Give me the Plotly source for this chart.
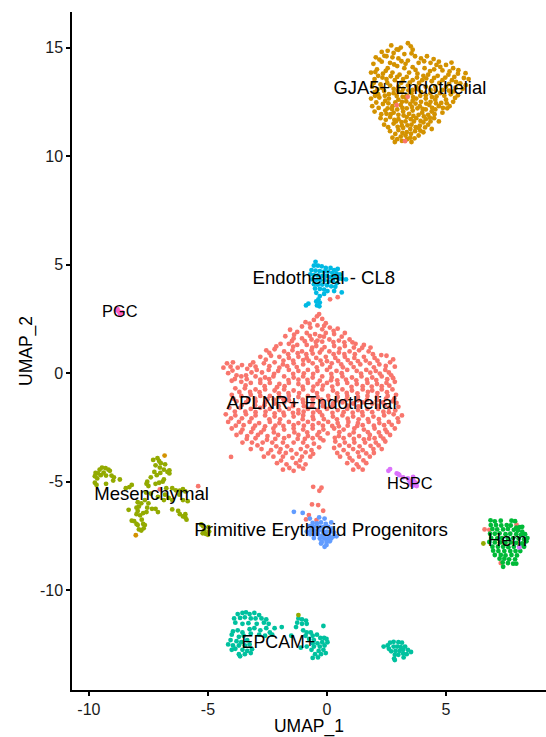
import plotly.graph_objects as go

gja5 = [(3.4,15.2),(3.1,15.0),(2.7,15.1),(3.6,14.9),(2.3,14.8),(2.8,14.75),(3.25,14.7),(2.05,14.55),(2.5,14.6),(3.7,14.6),(4.2,14.6),(3.0,14.5),
(1.95,14.25),(2.3,14.35),(2.65,14.3),(3.4,14.4),(3.85,14.3),(4.35,14.3),(4.7,14.35),(5.0,14.2),(2.1,14.0),(2.55,14.05),(2.95,14.15),(3.25,14.05),(3.6,14.1),(4.1,14.05),(4.5,14.0),(4.85,13.95),(5.3,14.05),
(1.85,13.85),(2.35,13.8),(2.75,13.85),(3.05,13.75),(3.45,13.85),(3.8,13.8),(4.25,13.75),(4.65,13.7),(5.1,13.75),(5.5,13.8),(5.75,13.6),
(2.0,13.55),(2.5,13.55),(2.85,13.5),(3.2,13.55),(3.6,13.5),(4.0,13.5),(4.4,13.45),(4.85,13.5),(5.25,13.5),(5.6,13.35),(5.95,13.55),
(1.9,13.2),(2.25,13.3),(2.65,13.25),(3.0,13.2),(3.4,13.25),(3.75,13.2),(4.15,13.2),(4.55,13.2),(5.0,13.2),(5.4,13.15),(5.7,13.1),
(2.0,12.95),(2.4,13.0),(2.8,12.9),(3.15,12.95),(3.55,12.9),(3.95,12.95),(4.35,12.9),(4.75,12.9),(5.2,12.85),(5.5,12.8),
(1.85,12.65),(2.2,12.7),(2.6,12.65),(3.0,12.6),(3.3,12.7),(3.75,12.65),(4.15,12.65),(4.55,12.6),(5.0,12.6),(5.3,12.5),
(1.9,12.3),(2.35,12.4),(2.75,12.3),(3.1,12.35),(3.5,12.4),(3.9,12.3),(4.3,12.35),(4.7,12.3),(5.15,12.3),
(2.0,12.05),(2.45,12.1),(2.8,12.0),(3.2,12.05),(3.6,12.1),(4.0,12.0),(4.4,12.05),(4.85,12.0),(5.05,12.2),
(2.25,11.75),(2.65,11.8),(3.0,11.7),(3.35,11.8),(3.75,11.75),(4.15,11.7),(4.5,11.75),(4.7,11.6),
(2.4,11.45),(2.8,11.5),(3.15,11.4),(3.55,11.45),(3.9,11.4),(4.25,11.45),(4.4,11.25),
(2.65,11.15),(3.0,11.2),(3.35,11.1),(3.7,11.15),(4.05,11.1),(2.75,10.85),(3.1,10.9),(3.5,10.85),(3.85,10.95),(2.85,10.65),(3.15,10.7),(3.55,10.65),
(2.55,14.85),(3.0,14.9),(2.2,14.45),(2.75,14.55),(3.3,14.25),(3.95,14.5),(4.6,14.2),(5.15,13.9),(2.15,13.7),(2.95,13.65),(3.35,13.65),(4.05,13.7),(4.5,13.6),(5.35,13.65),
(2.3,13.15),(2.8,13.1),(3.2,13.1),(3.6,13.05),(4.35,13.05),(4.85,13.05),(2.15,12.85),(2.6,12.85),(3.35,12.8),(4.15,12.8),(4.6,12.75),
(2.45,12.55),(3.15,12.5),(3.6,12.55),(3.95,12.5),(4.35,12.5),(4.8,12.45),(2.55,12.2),(2.95,12.15),(3.35,12.2),(3.8,12.2),(4.15,12.15),(4.55,12.15),
(2.5,11.95),(3.0,11.9),(3.45,11.95),(3.85,11.9),(4.25,11.9),(2.9,11.6),(3.3,11.6),(3.65,11.6),(4.05,11.55),(4.35,11.6),(3.2,11.3),(3.5,11.25),(3.85,11.3),(3.3,10.95)]

gja5_extra = [(2.93,14.92),(3.52,15.06),(2.41,14.62),(3.13,14.37),(2.82,14.22),(3.55,14.73),(4.08,14.37),(4.48,14.47),(5.23,14.31),(4.76,14.11),(5.52,13.96),(4.33,13.92),(3.72,13.97),(2.47,13.93),(2.03,13.87),
(5.82,13.82),(5.42,13.42),(4.97,13.62),(4.17,13.58),(3.78,13.62),(2.68,13.68),(2.33,13.62),(1.97,13.38),(2.53,13.38),(3.12,13.38),(3.48,13.39),(3.87,13.37),(4.72,13.37),(5.13,13.33),(5.83,13.27),
(2.12,13.07),(2.97,13.02),(3.42,13.03),(3.83,13.08),(4.57,13.03),(5.12,13.02),(5.33,12.98),(2.02,12.78),(2.43,12.78),(2.93,12.77),(3.18,12.73),(3.62,12.72),(3.92,12.78),(4.41,12.72),(4.93,12.78),(5.38,12.68),
(2.07,12.47),(2.58,12.43),(2.87,12.47),(3.33,12.52),(3.72,12.42),(4.17,12.42),(4.58,12.43),(5.03,12.43),(2.17,12.22),(2.73,12.17),(3.17,12.22),(3.57,12.26),(4.02,12.17),(4.42,12.22),(4.87,12.22),
(2.28,11.93),(2.68,11.93),(3.22,11.87),(3.63,11.85),(4.07,11.83),(4.52,11.93),(2.47,11.67),(2.83,11.67),(3.13,11.57),(3.52,11.7),(3.93,11.62),(4.32,11.77),(2.57,11.33),(2.97,11.35),(3.38,11.42),(3.73,11.33),(4.12,11.32),
(2.87,11.02),(3.17,11.07),(3.53,11.03),(3.92,11.17),(2.95,10.78),(3.37,10.78),(3.68,10.82)]

aplnr = [(2.93,12.35),(3.39,12.73),(3.28,10.69),(0.45,3.5),(0.13,3.4),(-4.03,-3.86),(-5.41,-5.21),(-7.02,-5.36),
(-0.58,-5.24),(-0.23,-5.28),(-0.32,-5.42),(-0.63,-6.05),(-0.37,-6.08),(-0.16,-6.34),(-0.76,-6.54),(-0.88,-6.74),(-0.44,-6.77),
(6.62,-7.2),(6.82,-7.22),(7.96,-6.98),(7.3,-8.75),
(-0.33,2.72),(-0.55,2.45),(-0.2,2.5),(-0.05,2.3),(-0.9,2.35),(-0.4,2.2),(-1.05,2.15),(-0.7,2.1),(-0.2,2.02),(0.12,2.1),(0.45,2.05),
(-1.55,2.0),(-1.25,1.9),(-0.85,1.85),(-0.5,1.8),(-0.3,1.7),(-0.05,1.85),(0.3,1.8),(0.75,1.85),(-1.75,1.7),(-1.4,1.6),(-1.05,1.6),(-0.65,1.55),(-0.2,1.45),(0.1,1.55),(0.5,1.5),(0.95,1.55),
(-1.95,1.35),(-1.6,1.35),(-1.25,1.3),(-0.85,1.3),(-0.45,1.25),(-0.1,1.2),(0.3,1.25),(0.75,1.25),(1.2,1.35),(1.55,1.3),
(-2.55,1.05),(-2.2,1.1),(-1.8,1.0),(-1.45,1.05),(-1.05,1.0),(-0.65,1.05),(-0.3,0.95),(0.1,1.0),(0.5,0.95),(0.95,1.0),(1.35,1.05),(1.75,1.0),
(-2.8,0.75),(-2.35,0.8),(-2.0,0.75),(-1.6,0.7),(-1.2,0.75),(-0.85,0.7),(-0.45,0.7),(-0.05,0.75),(0.35,0.7),(0.75,0.75),(1.15,0.7),(1.55,0.75),(2.0,0.7),(2.5,0.8),
(-3.1,0.5),(-2.65,0.45),(-2.2,0.5),(-1.85,0.4),(-1.4,0.45),(-1.0,0.4),(-0.6,0.45),(-0.2,0.4),(0.2,0.45),(0.6,0.4),(1.0,0.45),(1.4,0.4),(1.8,0.45),(2.2,0.4),(2.65,0.5),
(-4.2,0.45),(-3.95,0.5),(-4.05,0.3),(-4.35,0.25),(-3.75,0.25),(-3.35,0.2),(-2.95,0.15),(-2.45,0.15),(-2.05,0.1),(-1.6,0.15),(-1.2,0.1),(-0.8,0.15),(-0.4,0.1),(0.0,0.15),(0.4,0.1),(0.85,0.15),(1.25,0.1),(1.65,0.15),(2.05,0.1),(2.45,0.15),(2.85,0.3),
(-4.15,0.0),(-3.8,-0.1),(-3.4,-0.1),(-3.0,-0.15),(-2.6,-0.2),(-2.25,-0.15),(-1.8,-0.15),(-1.4,-0.2),(-1.0,-0.15),(-0.6,-0.2),(-0.2,-0.15),(0.2,-0.2),(0.65,-0.15),(1.05,-0.2),(1.45,-0.15),(1.9,-0.2),(2.3,-0.15),(2.7,-0.1),
(-4.0,-0.35),(-3.6,-0.4),(-3.2,-0.45),(-2.8,-0.45),(-2.4,-0.45),(-2.0,-0.5),(-1.6,-0.45),(-1.2,-0.5),(-0.8,-0.45),(-0.4,-0.5),(0.0,-0.45),(0.45,-0.5),(0.85,-0.45),(1.25,-0.5),(1.7,-0.45),(2.1,-0.5),(2.5,-0.45),(2.85,-0.4),
(-3.85,-0.7),(-3.45,-0.7),(-3.0,-0.75),(-2.6,-0.75),(-2.2,-0.8),(-1.8,-0.75),(-1.4,-0.8),(-1.0,-0.75),(-0.6,-0.8),(-0.2,-0.75),(0.25,-0.8),(0.65,-0.75),(1.05,-0.8),(1.5,-0.75),(1.9,-0.8),(2.3,-0.75),(2.75,-0.75),
(-4.0,-1.0),(-3.6,-1.05),(-3.2,-1.0),(-2.8,-1.05),(-2.4,-1.05),(-2.0,-1.1),(-1.6,-1.05),(-1.2,-1.1),(-0.8,-1.05),(-0.4,-1.1),(0.05,-1.05),(0.45,-1.1),(0.85,-1.05),(1.3,-1.1),(1.7,-1.05),(2.1,-1.1),(2.55,-1.05),(2.9,-1.0),
(-3.8,-1.3),(-3.4,-1.35),(-3.0,-1.3),(-2.6,-1.35),(-2.2,-1.4),(-1.8,-1.35),(-1.4,-1.4),(-1.0,-1.35),(-0.6,-1.4),(-0.2,-1.35),(0.25,-1.4),(0.65,-1.35),(1.1,-1.4),(1.5,-1.35),(1.9,-1.4),(2.35,-1.35),(2.75,-1.3),
(-4.1,-1.6),(-3.65,-1.6),(-3.2,-1.65),(-2.8,-1.6),(-2.4,-1.65),(-2.0,-1.7),(-1.6,-1.65),(-1.2,-1.7),(-0.8,-1.65),(-0.4,-1.7),(0.0,-1.65),(0.45,-1.7),(0.85,-1.65),(1.3,-1.7),(1.7,-1.65),(2.15,-1.65),(2.6,-1.6),(3.0,-1.55),
(-4.25,-1.9),(-3.85,-1.95),(-3.4,-1.9),(-3.0,-1.95),(-2.6,-1.95),(-2.2,-2.0),(-1.8,-1.95),(-1.4,-2.0),(-1.0,-1.95),(-0.6,-2.0),(-0.2,-1.95),(0.25,-2.0),(0.65,-1.95),(1.1,-2.0),(1.5,-1.95),(1.95,-2.0),(2.4,-1.95),(2.8,-1.9),(3.15,-1.95),
(-4.15,-2.25),(-3.7,-2.25),(-3.25,-2.25),(-2.85,-2.3),(-2.4,-2.25),(-2.0,-2.3),(-1.6,-2.25),(-1.2,-2.3),(-0.8,-2.25),(-0.35,-2.3),(0.05,-2.25),(0.45,-2.3),(0.9,-2.25),(1.3,-2.3),(1.75,-2.25),(2.2,-2.3),(2.6,-2.25),(3.0,-2.25),
(-4.0,-2.55),(-3.55,-2.6),(-3.1,-2.55),(-2.65,-2.6),(-2.25,-2.55),(-1.8,-2.6),(-1.4,-2.55),(-1.0,-2.6),(-0.6,-2.55),(-0.15,-2.6),(0.3,-2.55),(0.7,-2.6),(1.15,-2.55),(1.55,-2.6),(2.0,-2.55),(2.45,-2.6),(2.85,-2.55),
(-3.8,-2.85),(-3.35,-2.9),(-2.9,-2.85),(-2.5,-2.9),(-2.05,-2.85),(-1.6,-2.9),(-1.2,-2.85),(-0.8,-2.9),(-0.4,-2.85),(0.5,-2.9),(0.95,-2.85),(1.35,-2.9),(1.8,-2.85),(2.25,-2.9),(2.65,-2.85),
(-3.55,-3.2),(-3.15,-3.2),(-2.7,-3.2),(-2.3,-3.2),(-1.85,-3.2),(-1.4,-3.2),(-1.0,-3.2),(-0.55,-3.25),(-0.15,-3.1),(0.35,-3.15),(0.75,-3.2),(1.15,-3.2),(1.6,-3.2),(2.05,-3.2),(2.45,-3.15),
(-3.2,-3.5),(-2.75,-3.5),(-2.35,-3.55),(-1.95,-3.5),(-1.5,-3.55),(-1.1,-3.5),(-0.65,-3.55),(0.3,-3.45),(0.7,-3.55),(1.1,-3.5),(1.5,-3.55),(1.95,-3.5),(2.3,-3.5),
(-2.65,-3.85),(-2.25,-3.85),(-1.85,-3.85),(-1.45,-3.9),(-1.05,-3.85),(-0.7,-3.85),(0.55,-3.85),(0.95,-3.9),(1.35,-3.85),(1.8,-3.85),
(-2.1,-4.15),(-1.7,-4.2),(-1.3,-4.15),(-0.9,-4.2),(0.85,-4.15),(1.25,-4.2),(1.65,-4.15),(-1.85,-4.45),(-1.4,-4.5),(-1.0,-4.4),(1.1,-4.45),(1.5,-4.45),
(-3.6,-0.15),(-3.0,0.3),(-2.0,0.25),(-1.0,0.6),(-0.4,1.5),(-0.6,0.9),(0.0,0.55),(1.3,0.55),(-2.8,-0.3),(-2.1,-0.65),(-1.2,-0.3),(-0.3,-0.35),(0.8,-0.3),(1.5,-0.6),(2.3,-0.6),
(-3.3,-1.2),(-2.5,-1.2),(-1.6,-1.25),(-0.6,-1.2),(0.4,-1.25),(1.3,-1.25),(2.1,-1.25),(-3.0,-1.8),(-2.2,-1.85),(-1.2,-1.85),(-0.3,-1.8),(0.7,-1.8),(1.9,-1.8),(2.6,-1.8),
(-3.5,-2.4),(-2.6,-2.45),(-1.4,-2.4),(-0.6,-2.4),(0.5,-2.45),(1.5,-2.4),(2.4,-2.4),(-3.0,-3.0),(-1.8,-3.0),(-0.6,-3.0),(0.7,-3.0),(1.55,-3.05),(2.0,-3.0),(-2.0,-3.65),(-0.9,-3.65),(1.3,-3.65),(1.65,-3.7)]

aplnr_extra = [(-0.42,2.62),(-0.73,2.28),(-0.12,2.18),(0.28,1.95),(-1.38,1.77),(-0.72,1.72),(-0.13,1.68),(0.62,1.68),(1.07,1.42),(-1.47,1.48),(-0.93,1.47),(-0.47,1.43),(0.27,1.43),(0.73,1.42),(-2.13,1.23),(-1.42,1.22),(-0.62,1.17),(-0.22,1.08),(0.53,1.13),(1.13,1.18),(1.48,1.17),(1.83,1.18),
(-2.42,0.93),(-1.63,0.87),(-1.23,0.92),(-0.87,0.87),(0.28,0.87),(0.73,0.88),(1.17,0.87),(1.93,0.87),(2.28,0.83),(-2.57,0.62),(-1.83,0.58),(-1.42,0.58),(-0.77,0.57),(-0.27,0.58),(0.47,0.56),(0.87,0.6),(1.63,0.58),(2.12,0.57),(2.78,0.63),
(-3.57,0.37),(-3.22,0.37),(-2.42,0.32),(-1.67,0.32),(-1.27,0.28),(-0.43,0.27),(0.13,0.28),(0.67,0.27),(1.12,0.28),(1.97,0.27),(2.47,0.33),(-3.97,0.12),(-3.17,0.03),(-2.73,0.03),(-2.22,-0.03),(-1.42,-0.03),(-0.97,-0.01),(-0.58,-0.03),(0.18,-0.03),(0.62,0.0),(1.43,-0.02),(1.82,0.02),(2.22,-0.02),(2.6,0.03),
(-3.87,-0.27),(-3.37,-0.28),(-2.43,-0.28),(-1.62,-0.32),(-0.82,-0.31),(0.17,-0.33),(0.43,-0.33),(1.23,-0.33),(1.68,-0.3),(2.07,-0.32),(2.53,-0.28),(2.78,-0.23),(-3.42,-0.57),(-2.62,-0.6),(-1.78,-0.6),(-1.02,-0.62),(-0.57,-0.62),(-0.17,-0.58),(0.22,-0.62),(1.03,-0.63),(1.88,-0.62),(2.62,-0.58),
(-3.68,-0.87),(-3.23,-0.87),(-2.83,-0.88),(-2.02,-0.93),(-1.62,-0.92),(-1.17,-0.92),(-0.42,-0.92),(0.43,-0.93),(0.83,-0.91),(1.28,-0.93),(1.72,-0.87),(2.12,-0.92),(2.52,-0.88),(-3.93,-1.18),(-3.02,-1.17),(-2.23,-1.22),(-1.83,-1.2),(-1.02,-1.22),(-0.23,-1.22),(0.08,-1.23),(0.82,-1.22),(1.68,-1.23),(2.48,-1.18),(2.83,-1.17),
(-3.58,-1.47),(-3.02,-1.48),(-2.63,-1.48),(-2.03,-1.52),(-1.43,-1.52),(-0.97,-1.52),(-0.63,-1.53),(-0.17,-1.52),(0.22,-1.53),(0.87,-1.5),(1.32,-1.53),(2.12,-1.5),(2.43,-1.47),(2.92,-1.37),(-3.87,-1.77),(-3.43,-1.78),(-2.58,-1.78),(-1.83,-1.82),(-1.43,-1.83),(-0.98,-1.78),(-0.58,-1.82),(0.23,-1.83),(1.08,-1.82),(1.48,-1.8),(2.37,-1.78),(2.87,-1.72),
(-4.03,-2.08),(-3.57,-2.08),(-3.17,-2.08),(-2.42,-2.13),(-1.97,-2.13),(-1.02,-2.12),(-0.57,-2.12),(-0.13,-2.12),(0.42,-2.13),(0.87,-2.1),(1.33,-2.13),(1.72,-2.12),(2.18,-2.12),(2.97,-2.08),(-3.83,-2.42),(-3.02,-2.42),(-2.17,-2.42),(-1.83,-2.43),(-0.97,-2.42),(-0.17,-2.42),(0.22,-2.43),(0.87,-2.42),(1.27,-2.43),(1.97,-2.42),(2.72,-2.38),
(-3.62,-2.73),(-3.18,-2.72),(-2.77,-2.73),(-2.23,-2.73),(-1.37,-2.73),(-0.83,-2.73),(-0.33,-2.72),(0.03,-2.78),(0.52,-2.72),(1.12,-2.73),(1.72,-2.72),(2.18,-2.73),(2.52,-2.72),(-3.37,-3.03),(-2.52,-3.07),(-2.17,-3.03),(-1.23,-3.03),(-0.93,-3.03),(-0.28,-3.0),(0.33,-2.98),(1.13,-3.03),(1.77,-3.02),(2.37,-3.02),
(-2.92,-3.33),(-2.13,-3.37),(-1.67,-3.37),(-0.83,-3.37),(-0.33,-3.42),(0.53,-3.33),(0.93,-3.35),(1.37,-3.37),(1.83,-3.35),(2.17,-3.33),(-2.47,-3.7),(-1.73,-3.68),(-1.28,-3.72),(-0.58,-3.72),(0.43,-3.68),(0.87,-3.72),(1.97,-3.68),(-1.93,-4.03),(-1.13,-4.02),(1.07,-4.03),(1.53,-4.02),(-1.58,-4.37),(-1.17,-4.3),(1.33,-4.33)]

endo_cl8 = [(-0.48,5.13),(-0.55,4.95),(-0.38,4.95),(-0.22,4.92),(-0.05,4.85),(0.15,4.85),(0.3,4.75),(0.45,4.8),(-0.65,4.75),(-0.48,4.72),(-0.3,4.7),(-0.12,4.68),(0.05,4.68),(0.22,4.62),(0.4,4.6),(0.55,4.55),
(-0.7,4.55),(-0.55,4.52),(-0.38,4.5),(-0.2,4.48),(-0.02,4.48),(0.15,4.42),(0.32,4.42),(0.48,4.35),(0.62,4.35),(-0.62,4.32),(-0.45,4.3),(-0.28,4.28),(-0.1,4.28),(0.08,4.22),(0.25,4.25),(0.42,4.15),
(-0.55,4.1),(-0.38,4.08),(-0.2,4.08),(0.0,4.05),(0.18,4.0),(0.35,3.98),(-0.5,3.9),(-0.3,3.88),(-0.12,3.85),(0.02,3.78),(0.3,3.78),(0.62,3.72),(-0.45,3.7),(-0.12,3.65),(0.8,4.32),
(-0.3,3.55),(-0.36,3.4),(-0.45,3.3),(-0.3,3.25),(-0.42,3.12),(-0.32,3.08),(-0.78,3.2),(-0.88,3.12)]

mesenchymal = [(-9.75,-4.75),(-9.72,-4.6),(-9.65,-4.85),(-9.62,-4.62),(-9.55,-4.45),(-9.5,-4.7),(-9.45,-4.35),(-9.38,-4.58),(-9.3,-4.38),(-9.28,-4.72),(-9.18,-4.45),(-9.12,-4.5),(-9.05,-4.72),(-8.95,-4.8),(-8.98,-4.95),(-8.7,-4.9),(-9.75,-5.05),(-9.68,-5.15),(-9.28,-5.1),
(-7.3,-4.0),(-7.12,-3.92),(-7.05,-4.05),(-6.98,-4.15),(-7.2,-4.25),(-6.8,-4.2),(-7.02,-4.35),(-6.85,-4.45),(-7.25,-4.55),(-7.15,-4.7),(-7.0,-4.6),(-6.62,-4.48),(-6.62,-4.62),(-6.7,-4.55),(-6.85,-4.9),(-7.4,-4.8),(-7.55,-5.0),(-7.58,-5.1),(-7.5,-5.2),
(-7.2,-5.1),(-7.05,-5.05),(-6.9,-5.0),(-6.75,-5.3),(-8.2,-5.15),(-8.3,-5.25),(-8.45,-5.3),(-7.6,-5.5),(-7.4,-5.55),(-7.1,-5.7),(-6.8,-5.6),(-6.5,-5.3),(-6.35,-5.4),(-6.18,-5.42),(-6.05,-5.35),(-5.95,-5.45),(-6.2,-5.6),(-6.05,-5.85),(-5.85,-5.9),(-6.85,-5.85),(-6.65,-5.75),(-6.5,-5.85),
(-7.95,-5.95),(-7.8,-6.0),(-7.65,-5.85),(-7.5,-6.0),(-7.55,-6.2),(-7.9,-6.15),(-7.35,-6.25),(-7.2,-6.25),(-8.33,-6.3),(-8.0,-6.2),(-7.95,-6.35),(-8.0,-6.5),(-7.85,-6.55),(-7.72,-6.45),(-7.58,-6.4),(-7.1,-6.4),(-6.5,-6.28),(-6.25,-6.35),(-6.18,-6.5),(-6.05,-6.6),(-5.95,-6.65),(-5.9,-6.75),(-5.95,-6.5),
(-8.2,-6.8),(-8.1,-6.82),(-8.0,-6.95),(-7.78,-6.75),(-7.72,-6.95),(-7.65,-7.0),(-7.95,-7.0),(-7.9,-7.2),(-7.8,-7.25),(-7.7,-7.15),
(-5.28,-6.97),(-5.2,-7.05),(-5.15,-7.25),(-5.1,-7.4),(-5.0,-7.45),(-4.98,-7.1),(-5.22,-7.38),(-4.95,-7.3)]

hem = [(6.87,-6.78),(7.05,-6.83),(7.3,-6.8),(7.75,-6.8),(7.9,-6.82),(6.88,-7.0),(7.1,-7.0),(7.32,-7.02),(7.55,-7.0),(7.72,-7.02),(7.95,-7.12),(8.1,-7.1),(8.2,-7.08),(6.95,-7.18),(7.15,-7.2),(7.4,-7.2),(7.6,-7.18),(7.85,-7.22),(8.02,-7.25),(8.2,-7.3),
(6.85,-7.4),(7.05,-7.4),(7.25,-7.38),(7.5,-7.42),(7.7,-7.4),(7.95,-7.42),(8.15,-7.45),(8.32,-7.42),(6.9,-7.6),(7.15,-7.62),(7.35,-7.6),(7.6,-7.62),(7.82,-7.6),(8.05,-7.62),(8.28,-7.65),(8.42,-7.6),(6.82,-7.78),(7.05,-7.8),(7.28,-7.8),(7.5,-7.82),(7.72,-7.8),(7.95,-7.82),(8.2,-7.85),(8.38,-7.75),
(6.95,-8.0),(7.18,-8.0),(7.4,-8.0),(7.62,-8.02),(7.85,-8.0),(8.08,-8.0),(8.28,-8.0),(6.98,-8.18),(7.2,-8.2),(7.45,-8.2),(7.7,-8.2),(7.92,-8.2),(8.12,-8.2),(7.05,-8.38),(7.3,-8.38),(7.5,-8.4),(7.75,-8.38),(7.98,-8.4),(7.25,-8.55),(7.45,-8.55),(7.65,-8.58),(7.9,-8.58),(7.38,-8.72),(7.6,-8.75),(7.82,-8.78),(7.4,-8.92),(7.95,-8.78)]

epcam = [(-3.75,-11.1),(-3.55,-11.05),(-3.4,-11.02),(-3.25,-11.1),(-3.05,-11.05),(-2.85,-11.15),(-3.9,-11.3),(-3.65,-11.28),(-3.45,-11.25),(-3.2,-11.3),(-3.0,-11.3),(-2.75,-11.3),(-2.55,-11.35),(-3.85,-11.5),(-3.55,-11.55),(-3.3,-11.52),(-2.95,-11.55),(-2.65,-11.5),(-2.45,-11.55),
(-3.95,-11.9),(-3.75,-11.85),(-3.55,-11.95),(-3.25,-11.8),(-3.05,-11.75),(-2.8,-11.85),(-2.55,-11.75),(-2.4,-11.95),(-2.2,-11.75),(-4.0,-12.05),(-3.7,-12.15),(-3.5,-12.1),(-3.2,-12.0),(-2.85,-12.05),(-2.6,-12.1),(-2.3,-12.05),
(-4.05,-12.3),(-3.8,-12.35),(-3.6,-12.4),(-3.35,-12.3),(-4.15,-12.5),(-3.95,-12.55),(-3.7,-12.55),(-3.45,-12.55),(-3.25,-12.5),(-4.0,-12.75),(-3.85,-12.7),(-3.55,-12.75),(-3.35,-12.8),(-3.15,-12.72),(-3.7,-12.95),(-3.45,-12.95),(-3.2,-12.9),(-3.65,-13.05),
(-1.2,-11.3),(-1.05,-11.35),(-0.88,-11.4),(-1.25,-11.5),(-1.05,-11.55),(-0.85,-11.55),(-1.3,-11.7),(-0.15,-11.65),(-1.0,-11.85),(-0.85,-11.95),(-0.68,-11.95),(-0.9,-12.1),(-0.6,-12.1),(-0.42,-12.05),(-0.75,-12.25),(-0.55,-12.3),(-0.28,-12.2),(-0.12,-12.2),(-0.02,-12.25),
(-0.6,-12.45),(-0.4,-12.45),(-0.2,-12.4),(0.02,-12.4),(-0.85,-12.6),(-0.55,-12.6),(-0.3,-12.6),(-0.1,-12.55),(-0.65,-12.75),(-0.35,-12.8),(-0.15,-12.75),(-0.5,-12.95),(-0.25,-12.95),(-0.05,-12.9),(-0.6,-13.12),(-0.38,-13.1),
(-1.9,-11.7),(-1.5,-12.1),(-1.1,-12.65),
(2.38,-12.6),(2.55,-12.55),(2.65,-12.42),(2.8,-12.38),(3.0,-12.4),(3.15,-12.42),(2.6,-12.7),(2.8,-12.6),(2.95,-12.6),(3.1,-12.62),(3.28,-12.6),(2.7,-12.82),(2.88,-12.8),(3.05,-12.8),(3.2,-12.75),(3.4,-12.75),(3.53,-12.85),(2.85,-12.98),(3.0,-12.98),(3.2,-12.92),(3.35,-12.95),(2.82,-13.15),(3.22,-13.1),(2.85,-13.22)]

primitive = [(-1.39,-6.39),(-1.02,-6.44),(-0.72,-6.7),(-0.33,-6.65),(-0.1,-6.7),(0.18,-6.88),(-0.6,-6.9),(-0.42,-6.92),(-0.25,-6.88),(-0.05,-6.95),(-0.72,-7.05),(-0.58,-7.08),(-0.45,-7.05),(-0.3,-7.08),(-0.15,-7.1),(0.05,-7.08),(0.22,-7.15),(-0.85,-7.3),(-0.68,-7.25),(-0.52,-7.25),(-0.35,-7.25),(-0.18,-7.28),(0.0,-7.3),(0.15,-7.3),(0.3,-7.35),(-0.7,-7.42),(-0.52,-7.42),(-0.38,-7.42),(-0.2,-7.48),(-0.05,-7.45),(0.1,-7.5),(0.28,-7.52),(0.4,-7.52),(-0.55,-7.6),(-0.3,-7.62),(-0.12,-7.62),(0.03,-7.65),(0.18,-7.62),(-0.22,-7.78),(-0.02,-7.78),(0.12,-7.75),(-0.25,-7.85),(-0.02,-7.92),(-0.1,-8.0)]

hspc = [(2.58,-4.5),(2.65,-4.42),(2.93,-4.62),(3.0,-4.65),(3.04,-4.7),(3.2,-4.8),(3.4,-4.85),(3.45,-4.95),(3.5,-5.05),(3.62,-4.78),(3.63,-4.95),(3.72,-5.05),(3.77,-5.2),(3.62,-5.18),(3.55,-5.15),(8.08,-8.03)]

pgc = [(-8.85,2.9),(-8.75,2.85),(-8.7,2.75),(-8.6,2.8),(-8.8,2.95),(-8.68,2.68)]

gja5_strays = [(-6.82,-3.8),(-8.03,-7.47)]
mesenchymal_strays = [(6.57,-7.85),(-1.2,-11.15)]

cluster_names = ["GJA5+ Endothelial","APLNR+ Endothelial","Hem","EPCAM+","Endothelial - CL8","Primitive Erythroid Progenitors","Mesenchymal","HSPC","PGC"]
cluster_points = [gja5+gja5_extra+gja5_strays,aplnr+aplnr_extra,hem,epcam,endo_cl8,primitive,mesenchymal+mesenchymal_strays,hspc,pgc]
cluster_colors = ["#D39200","#F8766D","#00BA38","#00C19F","#00B9E3","#619CFF","#93AA00","#DB72FB","#FF61C3"]
label_x = [3.48,-0.65,7.58,-2.04,-0.13,-0.25,-7.37,3.48,-8.70]
label_y = [13.08,-1.46,-7.77,-12.47,4.34,-7.31,-5.61,-5.14,2.78]
label_sizes = [18.4,18.6,18.6,17.8,18.6,18.8,18.6,16.4,16.4]

x_ticks = [-10,-5,0,5]
y_ticks = [-10,-5,0,5,10,15]
x_tick_text = ["-10","-5","0","5"]
y_tick_text = ["-10","-5","0","5","10","15"]

fig = go.Figure()
for name, pts, col in zip(cluster_names, cluster_points, cluster_colors):
    fig.add_trace(go.Scatter(x=[p[0] for p in pts], y=[p[1] for p in pts], mode="markers", name=name,
                             marker=dict(color=col, size=4.8, line=dict(width=0)), showlegend=False, hoverinfo="skip"))
fig.add_trace(go.Scatter(x=label_x, y=label_y, mode="text", text=cluster_names, textposition="middle center",
                         textfont=dict(family="Liberation Sans", size=label_sizes, color="black"), showlegend=False, hoverinfo="skip"))

axis_common = dict(showgrid=False, zeroline=False, showline=True, linecolor="black", linewidth=1.5,
                   ticks="outside", ticklen=4, tickwidth=1.5, tickcolor="black",
                   tickfont=dict(family="Liberation Sans", size=16, color="#1a1a1a"),
                   title_font=dict(family="Liberation Sans", size=17.5, color="black"))
fig.update_layout(width=546, height=737, margin=dict(l=72, r=0, t=12, b=47), plot_bgcolor="white", paper_bgcolor="white",
                  xaxis=dict(range=[-10.71, 9.2], tickvals=x_ticks, ticktext=x_tick_text, title=dict(text="UMAP_1", standoff=2), **axis_common),
                  yaxis=dict(range=[-14.6, 16.64], tickvals=y_ticks, ticktext=y_tick_text, title=dict(text="UMAP_2", standoff=3), **axis_common))
fig.write_html("out.html", post_script="document.body.style.margin='0';", config={"displayModeBar": False})
